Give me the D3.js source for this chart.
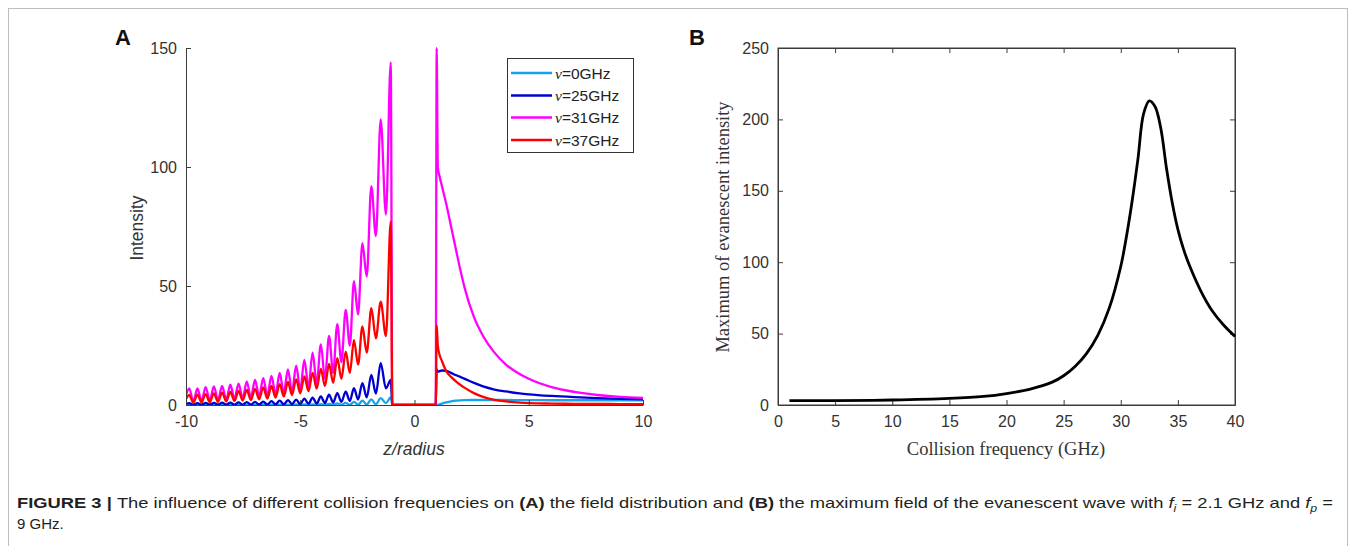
<!DOCTYPE html>
<html>
<head>
<meta charset="utf-8">
<script src="https://cdn.jsdelivr.net/npm/d3@7"></script>
<style>
  body { margin: 0; background: #fff; }
  svg text { font-family: "Liberation Sans", Arial, sans-serif; }
</style>
</head>
<body>
<div id="chart"></div>
<script>
// ---- panel A data: intensity vs z/radius ----
// left side: start, then peak/trough pairs, spike at the edge, drop to zero
const zLeft = [-10, -9.86, -9.68, -9.50, -9.32, -9.14, -8.96, -8.78, -8.60, -8.42, -8.24, -8.06, -7.88,
  -7.70, -7.52, -7.34, -7.16, -6.98, -6.80, -6.62, -6.44, -6.26, -6.08, -5.90, -5.72, -5.54, -5.36,
  -5.18, -5.00, -4.82, -4.64, -4.46, -4.28, -4.10, -3.92, -3.74, -3.56, -3.38, -3.20, -3.01, -2.83,
  -2.65, -2.47, -2.28, -2.09, -1.89, -1.69, -1.48, -1.25, -1.04, -0.97];
const zRight = [0.93, 0.97, 1.02, 1.1, 1.2, 1.4, 1.6, 1.8, 2.0, 2.2, 2.6, 3.0, 3.5, 4.0, 4.6, 5.0, 6.0, 7.0, 8.0, 9.0, 10.0];

const nu0Left = [0.02, 0.05,0, 0.05,0, 0.05,0, 0.05,0, 0.06,0, 0.06,0, 0.07,0, 0.08,0, 0.09,0, 0.1,0,
  0.12,0, 0.14,0, 0.17,0, 0.2,0, 0.25,0, 0.3,0, 0.4,0.02, 0.5,0.03, 0.7,0.05, 0.9,0.08, 1.3,0.12,
  1.8,0.2, 2.4,0.3, 2.9,0.8, 3.2, 0];
const nu25Left = [0.4, 0.8,0.1, 0.8,0.1, 0.9,0.1, 0.9,0.1, 1.0,0.1, 1.0,0.1, 1.1,0.15, 1.2,0.15, 1.3,0.2,
  1.4,0.2, 1.6,0.25, 1.8,0.3, 2.0,0.35, 2.3,0.4, 2.7,0.5, 3.1,0.6, 3.6,0.8, 4.3,1, 5.0,1.3, 5.6,1.7,
  7.1,2.3, 9.2,3.2, 12.6,4.8, 17.6,7, 10.5, 0];
const nu31Left = [4, 7,1.5, 7,1.7, 7.5,1.9, 7.8,2.1, 8,2.3, 8.5,2.6, 9,2.9, 9.8,3.2, 10.5,3.6, 11.3,4,
  12.2,4.5, 13.5,5, 15,5.6, 16.5,6.5, 19,7.5, 22,9, 25.5,11, 29,13.5, 34,18, 40,25, 52,38, 68,54,
  92,71, 120,80, 144, 0];
const nu37Left = [2.5, 4.2,1, 4.4,1.1, 4.6,1.2, 4.9,1.3, 5.2,1.5, 5.5,1.7, 5.9,1.9, 6.3,2.1, 6.8,2.4,
  7.4,2.7, 8,3.1, 8.8,3.6, 9.7,4.2, 10.8,4.9, 12,5.8, 13.5,6.9, 15.2,8, 17.3,9.3, 19.7,11, 22.4,13.5,
  27.3,17, 33,22, 40.7,28, 43.4,29, 77, 0];

const nu0Right = [0, 0, 0.1, 0.3, 0.6, 1.1, 1.5, 1.8, 1.95, 2.05, 2.1, 2.1, 2.1, 2.1, 2.05, 2.05, 2.0, 2.0, 2.0, 2.0, 2.0];
const nu25Right = [0, 15, 14, 14.2, 14.5, 14.3, 13.5, 12.6, 11.8, 11, 9.3, 7.8, 6.5, 5.7, 4.9, 4.5, 3.8, 3.3, 2.9, 2.6, 2.4];
const nu31Right = [0, 150, 100, 96, 92, 84, 75, 66, 57, 49, 37, 29, 22, 17, 13, 11, 7.5, 5.5, 4.2, 3.4, 3];
const nu37Right = [0, 33.5, 25, 21, 18.5, 14, 11.8, 10, 8.5, 7.2, 5, 3.4, 2.2, 1.5, 1, 0.8, 0.6, 0.5, 0.45, 0.4, 0.4];

const seriesNames = ['=0GHz', '=25GHz', '=31GHz', '=37GHz'];
const seriesColors = ['#12a5ec', '#0000d0', '#ff00ff', '#ff0000'];

const xTicksA = [-10, -5, 0, 5, 10];
const yTicksA = [0, 50, 100, 150];

// ---- panel B data: maximum evanescent intensity vs collision frequency ----
const freqB = [1, 5, 10, 15, 18, 20, 22, 24, 25, 26, 27, 28, 29, 30, 30.5, 31, 31.5, 32, 32.5, 33, 33.5, 34, 34.5, 35, 35.5, 36, 37, 38, 39, 40];
const intB = [3, 3.1, 3.5, 4.6, 6, 8, 11, 16, 20.5, 27, 36, 49, 68, 97, 118, 143, 172, 204, 213, 209, 194, 166, 142, 123, 109, 98, 80, 66, 56, 48];

const xTicksB = [0, 5, 10, 15, 20, 25, 30, 35, 40];
const yTicksB = [0, 50, 100, 150, 200, 250];

const W = 1356, H = 546;
const svg = d3.select('#chart').append('svg')
  .attr('width', W)
  .attr('height', H);

// figure frame
svg.append('rect')
  .attr('x', 8.5).attr('y', 8.5)
  .attr('width', 1339).attr('height', 600)
  .attr('fill', 'none')
  .attr('stroke', '#bdbdbd');

const tickFont = 16;
const axisColor = '#3c3c3c';

function styleAxis(g) {
  g.select('.domain').attr('stroke', axisColor);
  g.selectAll('.tick line').attr('stroke', axisColor);
  g.selectAll('.tick text')
    .attr('fill', '#333')
    .style('font-size', tickFont + 'px')
    .style('font-family', '"Liberation Sans", Arial, sans-serif');
}

// ================= panel A =================
const xA = d3.scaleLinear().domain([-10, 10]).range([186, 643]);
const yA = d3.scaleLinear().domain([0, 150]).range([405, 48]);

svg.append('clipPath').attr('id', 'clipA')
  .append('rect')
  .attr('x', 186).attr('y', 47)
  .attr('width', 457).attr('height', 358);

const zAll = zLeft.concat(zRight);
const seriesA = [
  nu0Left.concat(nu0Right),
  nu25Left.concat(nu25Right),
  nu31Left.concat(nu31Right),
  nu37Left.concat(nu37Right)
];

const lineA = d3.line()
  .x(d => xA(d[0]))
  .y(d => yA(d[1]))
  .curve(d3.curveMonotoneX);

svg.append('g').attr('clip-path', 'url(#clipA)')
  .selectAll('path')
  .data(seriesA)
  .enter().append('path')
  .attr('d', vals => lineA(vals.map((v, i) => [zAll[i], v])))
  .attr('fill', 'none')
  .attr('stroke', (d, i) => seriesColors[i])
  .attr('stroke-width', 2.3)
  .attr('stroke-linejoin', 'round');

svg.append('g')
  .attr('transform', 'translate(0,405)')
  .call(d3.axisBottom(xA).tickValues(xTicksA).tickFormat(d => String(d))
    .tickSizeInner(-5).tickSizeOuter(0).tickPadding(11))
  .call(styleAxis);

svg.append('g')
  .attr('transform', 'translate(186,0)')
  .call(d3.axisLeft(yA).tickValues(yTicksA).tickFormat(d => String(d))
    .tickSizeInner(-5).tickSizeOuter(0).tickPadding(9))
  .call(styleAxis);

svg.append('text')
  .attr('transform', 'translate(143,228) rotate(-90)')
  .attr('text-anchor', 'middle')
  .attr('fill', '#333')
  .style('font-size', '17.5px')
  .text('Intensity');

svg.append('text')
  .attr('x', 414).attr('y', 455)
  .attr('text-anchor', 'middle')
  .attr('fill', '#333')
  .style('font-size', '17.5px')
  .style('font-style', 'italic')
  .text('z/radius');

// legend
const legend = svg.append('g');
legend.append('rect')
  .attr('x', 507.5).attr('y', 58.5)
  .attr('width', 126).attr('height', 94)
  .attr('fill', '#fff')
  .attr('stroke', '#333');

const rowY = [73, 95.5, 117.5, 140];
const items = legend.selectAll('g.item')
  .data(seriesNames)
  .enter().append('g')
  .attr('class', 'item')
  .attr('transform', (d, i) => 'translate(0,' + rowY[i] + ')');

items.append('line')
  .attr('x1', 511).attr('x2', 552)
  .attr('stroke', (d, i) => seriesColors[i])
  .attr('stroke-width', 2.5);

const lt = items.append('text')
  .attr('x', 555).attr('y', 5.5)
  .attr('fill', '#222')
  .style('font-size', '15.5px');
lt.append('tspan')
  .style('font-family', '"Liberation Serif", "Times New Roman", serif')
  .style('font-style', 'italic')
  .text('\u03bd');
lt.append('tspan').text(d => d);

svg.append('text')
  .attr('x', 123).attr('y', 45)
  .attr('text-anchor', 'middle')
  .style('font-size', '22px')
  .style('font-weight', 'bold')
  .attr('fill', '#111')
  .text('A');

// ================= panel B =================
const xB = d3.scaleLinear().domain([0, 40]).range([778, 1235]);
const yB = d3.scaleLinear().domain([0, 250]).range([405, 48]);

// box with mirrored ticks
svg.append('rect')
  .attr('x', 778).attr('y', 48)
  .attr('width', 457).attr('height', 357)
  .attr('fill', 'none')
  .attr('stroke', axisColor);

svg.append('g')
  .attr('transform', 'translate(0,405)')
  .call(d3.axisBottom(xB).tickValues(xTicksB).tickFormat(d => String(d))
    .tickSizeInner(-5).tickSizeOuter(0).tickPadding(11))
  .call(styleAxis);

svg.append('g')
  .attr('transform', 'translate(0,48)')
  .call(d3.axisTop(xB).tickValues(xTicksB).tickFormat('')
    .tickSizeInner(-5).tickSizeOuter(0))
  .call(styleAxis);

svg.append('g')
  .attr('transform', 'translate(778,0)')
  .call(d3.axisLeft(yB).tickValues(yTicksB).tickFormat(d => String(d))
    .tickSizeInner(-5).tickSizeOuter(0).tickPadding(9))
  .call(styleAxis);

svg.append('g')
  .attr('transform', 'translate(1235,0)')
  .call(d3.axisRight(yB).tickValues(yTicksB).tickFormat('')
    .tickSizeInner(-5).tickSizeOuter(0))
  .call(styleAxis);

const lineB = d3.line()
  .x((d, i) => xB(freqB[i]))
  .y(d => yB(d))
  .curve(d3.curveCatmullRom.alpha(0.5));

svg.append('path')
  .datum(intB)
  .attr('d', lineB)
  .attr('fill', 'none')
  .attr('stroke', '#000')
  .attr('stroke-width', 2.8)
  .attr('stroke-linejoin', 'round');

svg.append('text')
  .attr('transform', 'translate(729,227) rotate(-90)')
  .attr('text-anchor', 'middle')
  .attr('fill', '#333')
  .style('font-size', '18.5px')
  .style('font-family', '"Liberation Serif", "Times New Roman", serif')
  .text('Maximum of evanescent intensity');

svg.append('text')
  .attr('x', 1006).attr('y', 455)
  .attr('text-anchor', 'middle')
  .attr('fill', '#333')
  .style('font-size', '18.5px')
  .style('font-family', '"Liberation Serif", "Times New Roman", serif')
  .text('Collision frequency (GHz)');

svg.append('text')
  .attr('x', 697).attr('y', 45)
  .attr('text-anchor', 'middle')
  .style('font-size', '22px')
  .style('font-weight', 'bold')
  .attr('fill', '#111')
  .text('B');

// ================= caption =================
const cap = svg.append('text')
  .attr('x', 17).attr('y', 508)
  .attr('fill', '#231f20')
  .style('font-size', '15px')
  .attr('textLength', 1316)
  .attr('lengthAdjust', 'spacingAndGlyphs');
cap.append('tspan').style('font-weight', 'bold').text('FIGURE 3 | ');
cap.append('tspan').text('The influence of different collision frequencies on ');
cap.append('tspan').style('font-weight', 'bold').text('(A)');
cap.append('tspan').text(' the field distribution and ');
cap.append('tspan').style('font-weight', 'bold').text('(B)');
cap.append('tspan').text(' the maximum field of the evanescent wave with ');
cap.append('tspan').style('font-style', 'italic').text('f');
cap.append('tspan').style('font-style', 'italic').style('font-size', '10px').attr('dy', 4).text('i');
cap.append('tspan').attr('dy', -4).text(' = 2.1 GHz and ');
cap.append('tspan').style('font-style', 'italic').text('f');
cap.append('tspan').style('font-style', 'italic').style('font-size', '10px').attr('dy', 4).text('p');
cap.append('tspan').attr('dy', -4).text(' =');

svg.append('text')
  .attr('x', 17).attr('y', 529)
  .attr('fill', '#231f20')
  .style('font-size', '15px')
  .text('9 GHz.');
</script>
</body>
</html>
